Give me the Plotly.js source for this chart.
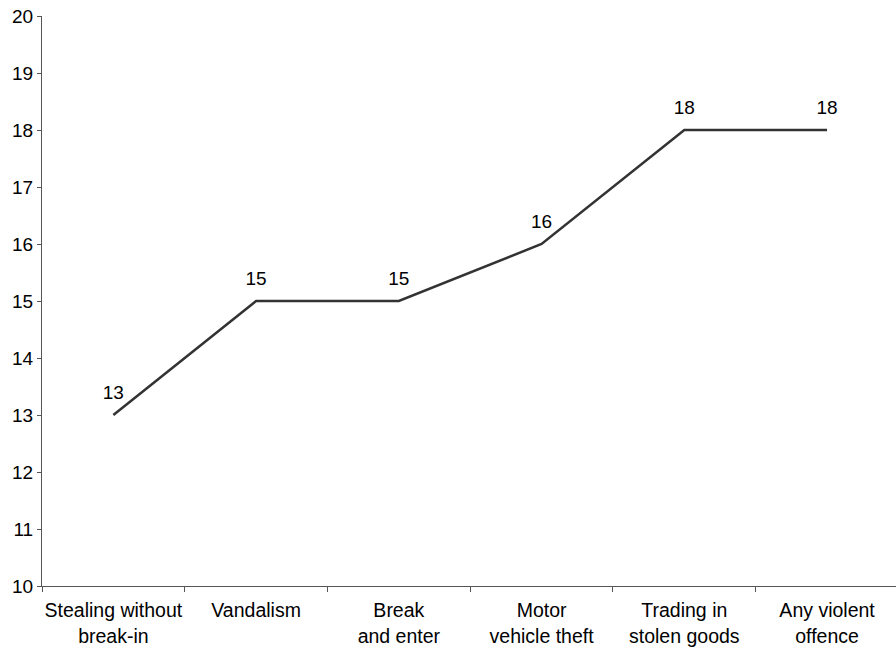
<!DOCTYPE html>
<html>
<head>
<meta charset="utf-8">
<script src="https://cdn.plot.ly/plotly-3.0.1.min.js"></script>
<style>html,body{margin:0;padding:0;background:#fff;}#chart{width:896px;height:651px;}</style>
</head>
<body>
<div id="chart"></div>
<script>
var categories = ["Stealing without<br>break-in", "Vandalism", "Break<br>and enter", "Motor<br>vehicle theft", "Trading in<br>stolen goods", "Any violent<br>offence"];
var values = [13, 15, 15, 16, 18, 18];
var yTicks = [10, 11, 12, 13, 14, 15, 16, 17, 18, 19, 20];

var trace = {
  x: categories,
  y: values,
  type: 'scatter',
  mode: 'lines+markers+text',
  text: values.map(String),
  textposition: 'top center',
  textfont: {family: 'Liberation Sans, Arial, sans-serif', size: 19, color: '#000'},
  marker: {size: 16, color: 'rgba(0,0,0,0)'},
  line: {color: '#333333', width: 2.5},
  cliponaxis: false,
  hoverinfo: 'none'
};

var layout = {
  width: 896,
  height: 651,
  margin: {l: 42, r: 0, t: 16, b: 65},
  paper_bgcolor: '#fff',
  plot_bgcolor: '#fff',
  showlegend: false,
  font: {family: 'Liberation Sans, Arial, sans-serif', size: 19, color: '#000'},
  xaxis: {
    type: 'category',
    range: [-0.5, 5.483],
    showgrid: false,
    zeroline: false,
    showline: true,
    linecolor: '#555',
    linewidth: 1,
    ticks: 'outside',
    tickson: 'boundaries',
    ticklen: 5,
    tickcolor: '#555',
    tickangle: 0,
    ticklabelstandoff: 7,
    tickfont: {size: 19.5}
  },
  yaxis: {
    range: [10, 20],
    tickvals: yTicks,
    showgrid: false,
    zeroline: false,
    showline: true,
    linecolor: '#555',
    linewidth: 1,
    ticks: 'outside',
    ticklen: 4,
    tickcolor: '#555',
    tickfont: {size: 19}
  }
};

Plotly.newPlot('chart', [trace], layout, {displayModeBar: false, staticPlot: true});
</script>
</body>
</html>
